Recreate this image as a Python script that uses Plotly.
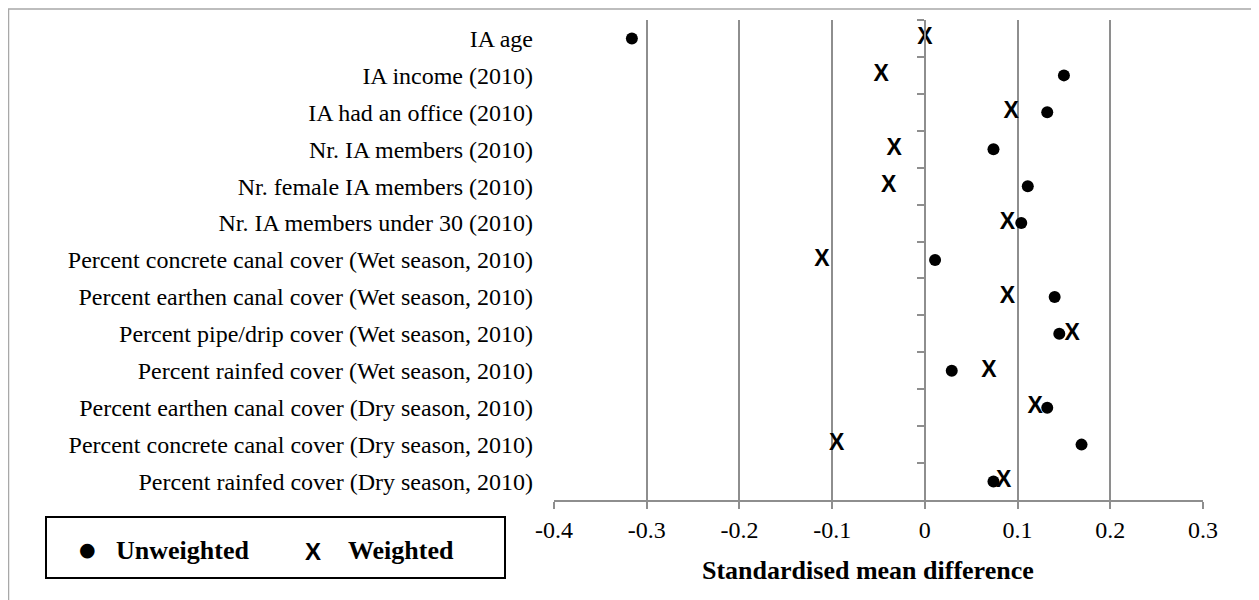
import plotly.graph_objects as go

categories = [
    "IA age",
    "IA income (2010)",
    "IA had an office (2010)",
    "Nr. IA members (2010)",
    "Nr. female IA members (2010)",
    "Nr. IA members under 30 (2010)",
    "Percent concrete canal cover (Wet season, 2010)",
    "Percent earthen canal cover (Wet season, 2010)",
    "Percent pipe/drip cover (Wet season, 2010)",
    "Percent rainfed cover (Wet season, 2010)",
    "Percent earthen canal cover (Dry season, 2010)",
    "Percent concrete canal cover (Dry season, 2010)",
    "Percent rainfed cover (Dry season, 2010)",
]
unweighted = [-0.316, 0.150, 0.132, 0.074, 0.111, 0.104, 0.011, 0.140, 0.145, 0.029, 0.132, 0.169, 0.074]
weighted = [0.000, -0.047, 0.093, -0.033, -0.039, 0.089, -0.111, 0.089, 0.159, 0.069, 0.119, -0.095, 0.085]
x_ticks = [-0.4, -0.3, -0.2, -0.1, 0.0, 0.1, 0.2, 0.3]
x_tick_text = ["-0.4", "-0.3", "-0.2", "-0.1", "0", "0.1", "0.2", "0.3"]
x_title = "Standardised mean difference"
legend_names = ["Unweighted", "Weighted"]

GRID = "#8e8e8e"
SERIF = "Liberation Serif"
XMIN, XMAX = -0.4, 0.3

fig = go.Figure()
fig.add_trace(go.Scatter(
    x=unweighted, y=categories, mode="markers", name=legend_names[0],
    marker=dict(symbol="circle", size=12, color="black"),
    showlegend=False, cliponaxis=False, yaxis="y",
))
fig.add_trace(go.Scatter(
    x=weighted, y=categories, mode="text", name=legend_names[1], text=["X"] * len(weighted),
    textposition="middle center",
    textfont=dict(family="Liberation Sans", size=23, color="black", weight="bold"),
    showlegend=False, cliponaxis=False, yaxis="y2",
))

n = len(categories)
yrange = [n - 0.5, -0.5]
fig.update_layout(
    width=1251, height=592,
    margin=dict(l=546, r=56, t=12, b=100),
    paper_bgcolor="white", plot_bgcolor="white",
    xaxis=dict(
        range=[XMIN, XMAX], tickvals=x_ticks, ticktext=x_tick_text,
        showgrid=True, gridcolor=GRID, gridwidth=2, zeroline=False,
        showline=True, linecolor=GRID, linewidth=2,
        ticks="outside", ticklen=7, tickcolor=GRID, tickwidth=2,
        tickfont=dict(family=SERIF, size=24, color="black"),
        fixedrange=True,
    ),
    yaxis=dict(
        type="category", categoryorder="array", categoryarray=categories,
        range=yrange, showgrid=False, zeroline=False, showline=False,
        ticks="", ticklabelstandoff=20,
        tickfont=dict(family=SERIF, size=24, color="black"),
    ),
    yaxis2=dict(
        type="category", categoryorder="array", categoryarray=categories,
        range=yrange, overlaying="y", anchor="free",
        position=(0 - XMIN) / (XMAX - XMIN), side="left",
        showgrid=False, zeroline=False, showline=True, linecolor=GRID, linewidth=2,
        ticks="outside", ticklen=7, tickcolor=GRID, tickwidth=2, tickson="boundaries",
        showticklabels=False,
    ),
    showlegend=False,
)

# outer chart border and legend box (paper coords relative to plot area)
fig.add_shape(type="rect", xref="paper", yref="paper",
              x0=(8.5 - 554) / 649, x1=(1253 - 554) / 649, y0=-0.25, y1=1 + 11 / 480,
              line=dict(color="#a8a8a8", width=1.5), layer="below")
fig.add_shape(type="rect", xref="paper", yref="paper",
              x0=(46 - 554) / 649, x1=(505 - 554) / 649, y0=(500 - 578) / 480, y1=(500 - 517) / 480,
              line=dict(color="black", width=2), fillcolor="white")

bold = dict(family=SERIF, size=26, color="black", weight="bold")
fig.add_annotation(xref="paper", yref="paper", x=(87.5 - 554) / 649, y=(500 - 549) / 480,
                   text="●", showarrow=False, xanchor="center", yanchor="middle",
                   font=dict(family="DejaVu Sans", size=19, color="black"))
fig.add_annotation(xref="paper", yref="paper", x=(114 - 554) / 649, y=(500 - 550) / 480,
                   text=legend_names[0], showarrow=False, xanchor="left", yanchor="middle", font=bold)
fig.add_annotation(xref="paper", yref="paper", x=(313 - 554) / 649, y=(500 - 551) / 480,
                   text="X", showarrow=False, xanchor="center", yanchor="middle",
                   font=dict(family="Liberation Sans", size=24, color="black", weight="bold"))
fig.add_annotation(xref="paper", yref="paper", x=(346 - 554) / 649, y=(500 - 550) / 480,
                   text=legend_names[1], showarrow=False, xanchor="left", yanchor="middle", font=bold)
fig.add_annotation(xref="paper", yref="paper", x=(868 - 554) / 649, y=(500 - 570) / 480,
                   text=x_title, showarrow=False, xanchor="center", yanchor="middle", font=bold)

fig.write_html("out.html")
